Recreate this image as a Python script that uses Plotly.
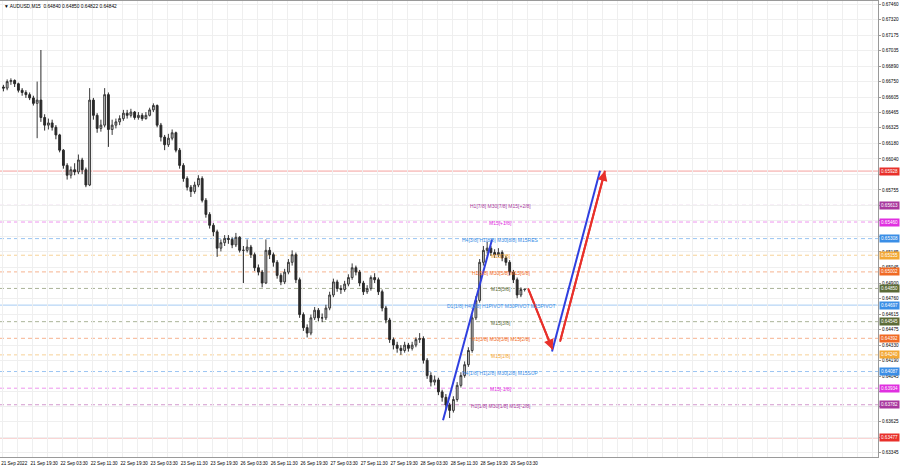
import plotly.graph_objects as go

# ---------------- data ----------------
symbol_title = "AUDUSD,M15  0.64840 0.64850 0.64822 0.64842"

# hourly-aggregated candles (each spans 4 M15 bars)
first_open = 0.6670
closes = [0.6669,0.6675,0.6676,0.6673,0.6667,0.6665,0.6663,0.6660,0.6655,0.6658,
          0.6642,0.6635,0.6637,0.6633,0.6626,0.6612,0.6598,0.6589,0.6594,0.6592,
          0.6603,0.6594,0.6580,0.6658,0.6644,0.6632,0.6635,0.6663,0.6631,0.6635,
          0.6638,0.6641,0.6646,0.6644,0.6647,0.6642,0.6644,0.6641,0.6644,0.6649,
          0.6653,0.6635,0.6624,0.6617,0.6623,0.6628,0.6612,0.6598,0.6586,0.6578,
          0.6574,0.6580,0.6586,0.6566,0.6553,0.6543,0.6537,0.6522,0.6527,0.6531,
          0.6530,0.6525,0.6532,0.6520,0.6520,0.6523,0.6516,0.6504,0.6500,0.6490,
          0.6520,0.6516,0.6509,0.6497,0.6491,0.6500,0.6509,0.6516,0.6493,0.6461,
          0.6449,0.6444,0.6458,0.6465,0.6458,0.6458,0.6467,0.6479,0.6491,0.6485,
          0.6484,0.6489,0.6495,0.6504,0.6500,0.6490,0.6482,0.6485,0.6495,0.6493,
          0.6482,0.6467,0.6456,0.6438,0.6433,0.6430,0.6428,0.6433,0.6430,0.6433,
          0.6438,0.6439,0.6419,0.6405,0.6399,0.6401,0.6390,0.6385,0.6378,0.6373,
          0.6383,0.6396,0.6405,0.6415,0.6428,0.6458,0.6474,0.6509,0.6520,0.6522,
          0.6518,0.6516,0.6518,0.6513,0.6509,0.6500,0.6493,0.6479,0.6484,0.64842]
highs = [0.6672,0.6677,0.6678,0.6677,0.6674,0.6669,0.6667,0.6665,0.6662,0.6675,
         0.6704,0.6645,0.6641,0.6640,0.6635,0.6627,0.6613,0.6600,0.6597,0.6600,
         0.6608,0.6605,0.6596,0.6669,0.6660,0.6646,0.6640,0.6669,0.6665,0.6640,
         0.6641,0.6644,0.6649,0.6649,0.6650,0.6648,0.6647,0.6646,0.6647,0.6651,
         0.6655,0.6654,0.6637,0.6626,0.6627,0.6631,0.6629,0.6614,0.6600,0.6588,
         0.6580,0.6583,0.6589,0.6588,0.6568,0.6555,0.6545,0.6539,0.6530,0.6534,
         0.6534,0.6532,0.6536,0.6533,0.6524,0.6530,0.6525,0.6518,0.6507,0.6502,
         0.6530,0.6523,0.6518,0.6511,0.6499,0.6503,0.6512,0.6520,0.6518,0.6495,
         0.6463,0.6452,0.6461,0.6468,0.6467,0.6462,0.6470,0.6482,0.6494,0.6493,
         0.6488,0.6492,0.6498,0.6508,0.6506,0.6502,0.6492,0.6488,0.6497,0.6499,
         0.6495,0.6484,0.6469,0.6458,0.6440,0.6436,0.6433,0.6436,0.6435,0.6436,
         0.6440,0.6444,0.6441,0.6421,0.6408,0.6405,0.6403,0.6392,0.6388,0.6380,
         0.6386,0.6399,0.6408,0.6418,0.6431,0.6461,0.6478,0.6512,0.6524,0.6528,
         0.6524,0.6521,0.6522,0.6520,0.6515,0.6511,0.6502,0.6495,0.6486,0.64850]
lows = [0.6666,0.6667,0.6672,0.6670,0.6665,0.6662,0.6660,0.6658,0.6653,0.6623,
        0.6638,0.6630,0.6631,0.6630,0.6622,0.6610,0.6595,0.6585,0.6586,0.6589,
        0.6590,0.6590,0.6578,0.6579,0.6640,0.6628,0.6629,0.6633,0.6615,0.6626,
        0.6632,0.6635,0.6639,0.6641,0.6642,0.6640,0.6640,0.6639,0.6640,0.6643,
        0.6647,0.6633,0.6620,0.6612,0.6615,0.6621,0.6610,0.6595,0.6583,0.6575,
        0.6569,0.6572,0.6578,0.6564,0.6550,0.6540,0.6533,0.6514,0.6519,0.6524,
        0.6526,0.6522,0.6523,0.6518,0.6490,0.6518,0.6513,0.6501,0.6497,0.6486,
        0.6489,0.6512,0.6505,0.6494,0.6488,0.6489,0.6498,0.6506,0.6490,0.6458,
        0.6446,0.6440,0.6442,0.6456,0.6455,0.6454,0.6456,0.6465,0.6477,0.6482,
        0.6480,0.6482,0.6487,0.6493,0.6497,0.6487,0.6479,0.6480,0.6483,0.6490,
        0.6479,0.6464,0.6453,0.6435,0.6429,0.6426,0.6424,0.6426,0.6427,0.6428,
        0.6431,0.6435,0.6416,0.6402,0.6395,0.6396,0.6387,0.6381,0.6374,0.6366,
        0.6371,0.6381,0.6394,0.6403,0.6413,0.6426,0.6456,0.6472,0.6506,0.6517,
        0.6515,0.6513,0.6514,0.6510,0.6506,0.6497,0.6490,0.6476,0.6477,0.64822]

# time axis labels (one every 32 M15 bars)
time_labels = ["21 Sep 2022", "21 Sep 19:30", "22 Sep 03:30", "22 Sep 11:30", "22 Sep 19:30",
               "23 Sep 03:30", "23 Sep 11:30", "23 Sep 19:30", "26 Sep 03:30", "26 Sep 11:30",
               "26 Sep 19:30", "27 Sep 03:30", "27 Sep 11:30", "27 Sep 19:30", "28 Sep 03:30",
               "28 Sep 11:30", "28 Sep 19:30", "29 Sep 03:30"]

# price scale labels
price_ticks = [0.67460, 0.67320, 0.67175, 0.67035, 0.66890, 0.66750, 0.66605, 0.66465, 0.66325,
               0.66180, 0.66040, 0.65900, 0.65755, 0.65615, 0.65470, 0.65330, 0.65185, 0.65045,
               0.64900, 0.64760, 0.64615, 0.64475, 0.64330, 0.64190, 0.64045, 0.63905, 0.63765,
               0.63625, 0.63480, 0.63345]

# Murrey-math style levels
level_prices = [0.65928, 0.65613, 0.65460, 0.65308, 0.65155, 0.65002, 0.64850, 0.64697,
                0.64545, 0.64392, 0.64240, 0.64087, 0.63934, 0.63782, 0.63477]
level_colors = ["#e8302a", "#a8389e", "#e030e0", "#3a8ee6", "#f2a734", "#f06a24", "#5b6b37",
                "#3a8ee6", "#5b6b37", "#f06a24", "#f2a734", "#3a8ee6", "#e030e0", "#a8389e", "#e8302a"]
level_dash = ["solid", "dash", "dash", "dash", "dash", "dash", "dash", "solid",
              "dash", "dash", "dash", "dash", "dash", "dash", "solid"]
level_texts = ["", "H1[7/8] M30[7/8] M15[+2/8]", "M15[+1/8]", "H4[3/8] H1[8/8] M30[8/8] M15RES",
               "M15[7/8]", "H1[5/8] M30[5/8] M15[6/8]", "M15[5/8]",
               "D1[1/8] H4[2/8] H1PIVOT M30PIVOT M15PIVOT", "M15[3/8]",
               "H1[3/8] M30[3/8] M15[2/8]", "M15[1/8]", "H4[1/8] H1[2/8] M30[2/8] M15SUP",
               "M15[-1/8]", "H1[1/8] M30[1/8] M15[-2/8]", ""]

# drawn trend / forecast lines (x in M15 bars, y in price)
blue_x = [[470.4, 522.7], [586.7, 637.9]]
blue_y = [[0.6364, 0.6530], [0.6427, 0.6593]]
red_x = [[561.1, 587.2], [595.2, 643.2]]
red_y = [[0.6485, 0.6429], [0.6436, 0.6593]]

# ---------------- figure ----------------
n = len(closes)
opens = [first_open] + closes[:-1]
bar_x = [4 * k + 1.5 for k in range(n)]
font_fam = "Liberation Sans, Arial, sans-serif"

# price-scale labels that sit under a level box are hidden by it
tick_text = [("" if min(abs(v - p) for p in level_prices) < 0.0003 else f"{v:.5f}")
             for v in price_ticks]

fig = go.Figure()

# level lines
for p, c, d in zip(level_prices, level_colors, level_dash):
    fig.add_hline(y=p, line=dict(color=c, width=1, dash=("solid" if d == "solid" else "4px,3px")),
                  opacity=0.45 if d == "solid" else 0.5, layer="below")

fig.add_trace(go.Candlestick(
    x=bar_x, open=opens, high=highs, low=lows, close=closes,
    increasing=dict(line=dict(color="#3a3a3a", width=1), fillcolor="#c8c8c8"),
    decreasing=dict(line=dict(color="#2a2a2a", width=1), fillcolor="#2a2a2a"),
    whiskerwidth=0, showlegend=False, hoverinfo="skip"))

for xs, ys in zip(blue_x, blue_y):
    fig.add_trace(go.Scatter(x=xs, y=ys, mode="lines", line=dict(color="#2f3fe0", width=2),
                             showlegend=False, hoverinfo="skip"))
for xs, ys in zip(red_x, red_y):
    fig.add_trace(go.Scatter(x=xs, y=ys, mode="lines", line=dict(color="#e8302a", width=2),
                             showlegend=False, hoverinfo="skip"))
    fig.add_annotation(x=xs[1], y=ys[1], ax=xs[0], ay=ys[0], xref="x", yref="y",
                       axref="x", ayref="y", showarrow=True, arrowhead=2, arrowsize=1.0,
                       arrowwidth=2, arrowcolor="#e8302a", text="")

# level texts and right-side price boxes
for p, c, t in zip(level_prices, level_colors, level_texts):
    if t:
        fig.add_annotation(x=532, y=p, xref="x", yref="y", text=t, showarrow=False,
                           font=dict(size=5, color=c, family=font_fam), yshift=-1)
    fig.add_annotation(x=1, y=p, xref="paper", yref="y", xanchor="left", text=f"{p:.5f}",
                       showarrow=False, font=dict(size=4.6, color="white", family=font_fam),
                       bgcolor=c, borderpad=1, xshift=1)

fig.add_annotation(x=0.002, y=1, xref="paper", yref="paper", xanchor="left", yanchor="top",
                   text="\u25BC " + symbol_title, showarrow=False, yshift=-1,
                   font=dict(size=4.8, color="#000000", family=font_fam))

fig.update_layout(
    width=900, height=468,
    margin=dict(l=0, r=22, t=1, b=11),
    paper_bgcolor="white", plot_bgcolor="white",
    showlegend=False,
    xaxis=dict(
        range=[-2.13, 934.4], rangeslider=dict(visible=False),
        tickmode="array", tickvals=[32 * i + 13 for i in range(len(time_labels))],
        ticktext=time_labels, showgrid=False, zeroline=False,
        tickfont=dict(size=4.6, color="#000", family=font_fam), ticks="",
        showline=True, linecolor="#9a9a9a", mirror=True, ticklabelstandoff=1,
        minor=dict(tickmode="linear", tick0=0, dtick=16, showgrid=True, gridcolor="#efefef",
                   gridwidth=1),
    ),
    yaxis=dict(
        range=[0.63302, 0.67490], side="right",
        tickmode="array", tickvals=price_ticks, ticktext=tick_text,
        showgrid=True, gridcolor="#efefef", zeroline=False,
        tickfont=dict(size=4.6, color="#000", family=font_fam),
        ticks="outside", ticklen=2, tickcolor="#9a9a9a",
        showline=True, linecolor="#9a9a9a", mirror=True,
    ),
)

fig.write_html("out.html", config={"displayModeBar": False},
               post_script="document.body.style.margin='0';document.body.style.padding='0';")
